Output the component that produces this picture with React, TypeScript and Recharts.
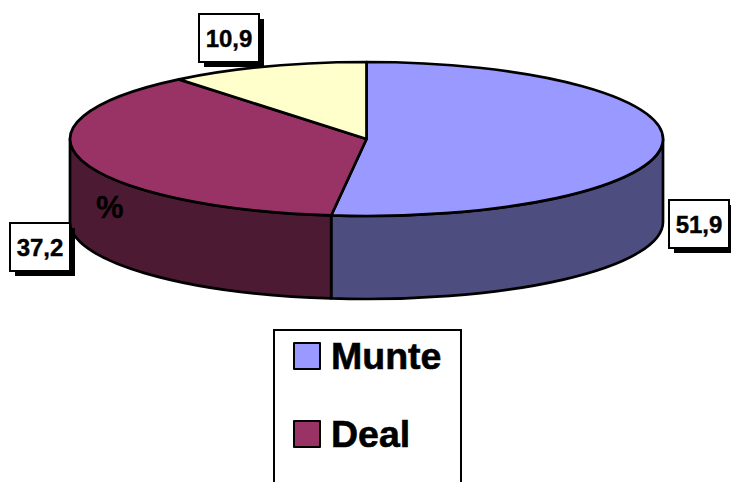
import React from "react";
import { PieChart, Pie, Cell, Legend } from "recharts";

// Shares; the third legend row falls below the page, so its name is unknown.
const categories = ["Munte", "Deal", ""];
const shares = [51.9, 37.2, 10.9];
const shareLabels = ["51,9", "37,2", "10,9"];
const topColors = ["#9999FF", "#993366", "#FFFFCC"];
const wallColors = ["#4D4D80", "#4D1A33", "#80806A"];

const data = categories.map((name, i) => ({ name, value: shares[i], wall: wallColors[i], text: shareLabels[i] }));

// Tilted-disc projection
const RX = 296.5;
const RY = 77;
const DEPTH = 83;
// Box offsets from the rim point of each slice
const labelOffsets = [
  [37, 80],
  [-42, 87],
  [-38, -28],
];

const FONT = '"Liberation Sans", Arial, sans-serif';

// theta runs clockwise from the top of the disc
function rim(cx: number, cy: number, theta: number) {
  const r = (theta * Math.PI) / 180;
  return [cx + RX * Math.sin(r), cy - RY * Math.cos(r)];
}

function DiscSlice(props: any) {
  const { cx, cy, startAngle, endAngle, fill, payload } = props;
  const a = 90 - startAngle;
  const b = 90 - endAngle;
  const [ax, ay] = rim(cx, cy, a);
  const [bx, by] = rim(cx, cy, b);
  const large = b - a > 180 ? 1 : 0;
  const top = `M${cx},${cy} L${ax},${ay} A${RX},${RY} 0 ${large} 1 ${bx},${by} Z`;

  // only the front half of the rim has a visible wall
  const wa = Math.max(a, 90);
  const wb = Math.min(b, 270);
  let wall = null;
  if (wb > wa) {
    const [x0, y0] = rim(cx, cy, wa);
    const [x1, y1] = rim(cx, cy, wb);
    const d = `M${x0},${y0} A${RX},${RY} 0 0 1 ${x1},${y1} L${x1},${y1 + DEPTH} A${RX},${RY} 0 0 0 ${x0},${y0 + DEPTH} Z`;
    wall = <path d={d} fill={payload.wall ?? props.wall} stroke="#000" strokeWidth={2.7} strokeLinejoin="round" />;
  }
  return (
    <g>
      {wall}
      <path d={top} fill={fill} stroke="#000" strokeWidth={2.7} strokeLinejoin="round" />
    </g>
  );
}

function BoxLabel(props: any) {
  const { cx, cy, midAngle, index } = props;
  const [px, py] = rim(cx, cy, 90 - midAngle);
  const x = Math.round(px + labelOffsets[index][0]);
  const y = Math.round(py + labelOffsets[index][1]);
  return (
    <g>
      {/* the stray unit mark sits on the Deal wall */}
      {index === 1 && (
        <text x={96} y={218} fontFamily={FONT} fontWeight="bold" fontSize={31} fill="#000" stroke="#000" strokeWidth={0.3}>
          %
        </text>
      )}
      <rect x={x - 25} y={y - 19} width={60} height={48} fill="#000" />
      <rect x={x - 30} y={y - 24} width={60} height={48} fill="#fff" stroke="#000" strokeWidth={2} />
      <text x={x} y={y + 9} textAnchor="middle" fontFamily={FONT} fontWeight="bold" fontSize={24} fill="#000" stroke="#000" strokeWidth={0.4}>
        {shareLabels[index]}
      </text>
    </g>
  );
}

function BoxLegend({ payload }: any) {
  const rows = (payload ?? []).filter((p: any) => p.value);
  return (
    <div style={{ border: "2px solid #000", boxSizing: "border-box", height: 200, background: "#fff" }}>
      {rows.map((p: any, i: number) => (
        <div key={p.value} style={{ position: "absolute", left: 20, top: 12 + i * 78, display: "flex", alignItems: "center", height: 30 }}>
          <span style={{ width: 24, height: 24, background: topColors[i], border: "2px solid #000", borderRadius: 1, display: "inline-block" }} />
          <span style={{ marginLeft: 10, fontFamily: FONT, fontWeight: "bold", fontSize: 37.5, color: "#000", lineHeight: "30px", WebkitTextStroke: "0.6px #000" }}>{p.value}</span>
        </div>
      ))}
    </div>
  );
}

export default function App() {
  return (
    <div style={{ position: "absolute", left: 0, top: 0, width: 731, height: 482, overflow: "hidden", background: "#fff" }}>
      <PieChart width={731} height={482} margin={{ top: 0, right: 0, bottom: 0, left: 0 }}>
        <Pie
          data={data}
          dataKey="value"
          nameKey="name"
          cx={366.5}
          cy={139}
          outerRadius={RX}
          startAngle={90}
          endAngle={-270}
          shape={DiscSlice}
          label={BoxLabel}
          labelLine={false}
          isAnimationActive={false}
        >
          {data.map((d, i) => (
            <Cell key={i} fill={topColors[i]} />
          ))}
        </Pie>
        <Legend
          content={<BoxLegend />}
          itemSorter={null}
          wrapperStyle={{ position: "absolute", left: 273, top: 329, width: 189, height: 200, bottom: "auto", right: "auto" }}
        />
      </PieChart>
    </div>
  );
}
